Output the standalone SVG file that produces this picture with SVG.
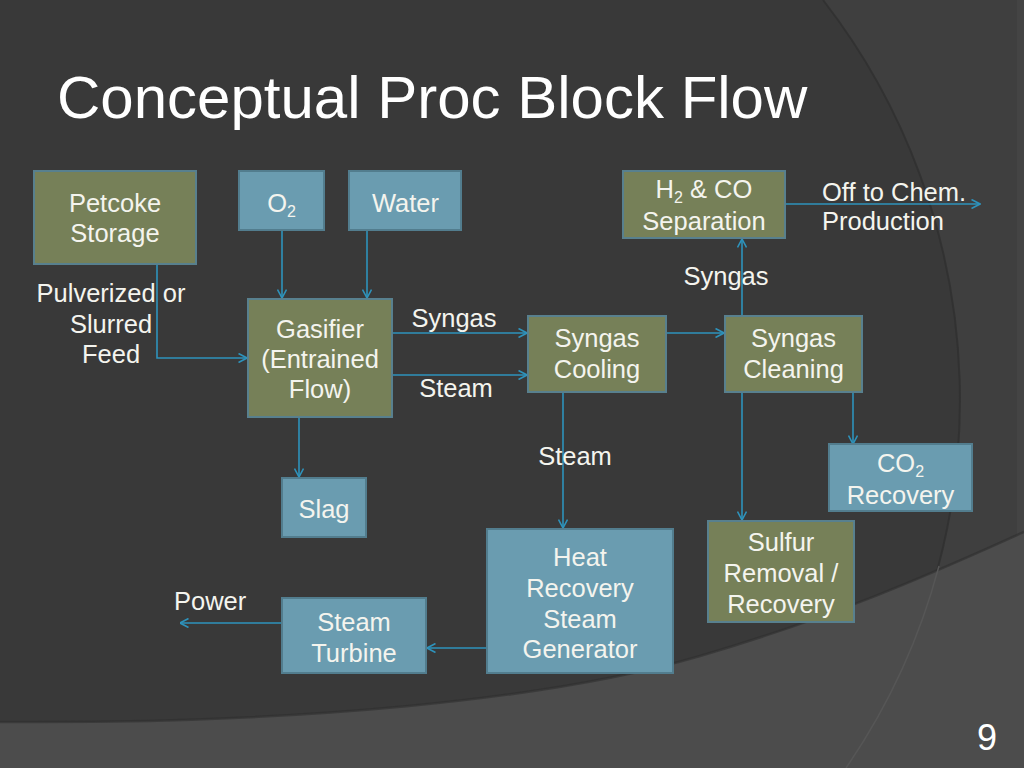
<svg xmlns="http://www.w3.org/2000/svg" width="1024" height="768" viewBox="0 0 1024 768">
<style>
.t{font-family:"Liberation Sans",Arial,sans-serif;font-size:25.5px;fill:#F4F4EE;text-anchor:middle}
.l{font-family:"Liberation Sans",Arial,sans-serif;font-size:25.5px;fill:#F4F4EE}
.g{fill:#768058;stroke:#58808E;stroke-width:2}
.b{fill:#6A9CB0;stroke:#527D8E;stroke-width:2}
.c{fill:none;stroke:#2E93BC;stroke-width:1.6;marker-end:url(#ah)}
</style>
<defs>
<marker id="ah" viewBox="0 0 10 10" refX="9.5" refY="5" markerWidth="10" markerHeight="10" markerUnits="userSpaceOnUse" orient="auto">
<path d="M1,0.5 L9.5,5 L1,9.5" fill="none" stroke="#2E93BC" stroke-width="1.6"/>
</marker>
</defs>
<g id="background">
<rect width="1024" height="768" fill="#393939"/>
<path d="M823,0 A652,652 0 0 1 846,768 L1024,768 L1024,0 Z" fill="#3F3F3F"/>
<path d="M823,0 A652,652 0 0 1 846,768" fill="none" stroke="#303030" stroke-width="2" opacity="0.8"/>
<rect x="1017" y="0" width="7" height="768" fill="#444444"/>
<path d="M0,722 C300,724 550,700 700,656 S950,565 1024,532 L1024,768 L0,768 Z" fill="#4C4C4C"/>
<path d="M0,722 C300,724 550,700 700,656 S950,565 1024,532" fill="none" stroke="#2F2F2F" stroke-width="2.5" opacity="0.6"/>
<path d="M939,566 A652,652 0 0 1 846,768" fill="none" stroke="#565656" stroke-width="1.5"/>
</g>
<text x="57" y="118" font-family="Liberation Sans, Arial, sans-serif" font-size="60" fill="#FFFFFF">Conceptual Proc Block Flow</text>
<g id="connectors">
<path class="c" d="M157,265 V358 H247"/>
<path class="c" d="M282,231 V298"/>
<path class="c" d="M367,231 V298"/>
<path class="c" d="M393,333 H527"/>
<path class="c" d="M393,375 H527"/>
<path class="c" d="M299,418 V477"/>
<path class="c" d="M667,333 H724"/>
<path class="c" d="M742,315 V239"/>
<path class="c" d="M786,204 H980"/>
<path class="c" d="M853,393 V444"/>
<path class="c" d="M742,393 V520"/>
<path class="c" d="M563,393 V528"/>
<path class="c" d="M486,648 H427"/>
<path class="c" d="M281,623 H180"/>
</g>
<g id="labels">
<text class="t" x="111" y="302">Pulverized or</text>
<text class="t" x="111" y="333">Slurred</text>
<text class="t" x="111" y="363">Feed</text>
<text class="t" x="454" y="327">Syngas</text>
<text class="t" x="456" y="397">Steam</text>
<text class="t" x="726" y="285">Syngas</text>
<text class="t" x="575" y="465">Steam</text>
<text class="l" x="822" y="201">Off to Chem.</text>
<text class="l" x="822" y="230">Production</text>
<text class="l" x="174" y="610">Power</text>
</g>
<g id="petcoke">
<rect class="g" x="34" y="171" width="162" height="93"/>
<text class="t" x="115" y="212">Petcoke</text>
<text class="t" x="115" y="242">Storage</text>
</g>
<g id="o2">
<rect class="b" x="239" y="171" width="85" height="59"/>
<text class="t" x="281.5" y="212">O<tspan font-size="16" dy="5">2</tspan></text>
</g>
<g id="water">
<rect class="b" x="349" y="171" width="112" height="59"/>
<text class="t" x="405.5" y="212">Water</text>
</g>
<g id="gasifier">
<rect class="g" x="248" y="299" width="144" height="118"/>
<text class="t" x="320" y="338">Gasifier</text>
<text class="t" x="320" y="368">(Entrained</text>
<text class="t" x="320" y="398">Flow)</text>
</g>
<g id="slag">
<rect class="b" x="282" y="478" width="84" height="59"/>
<text class="t" x="324" y="518">Slag</text>
</g>
<g id="cooling">
<rect class="g" x="528" y="316" width="138" height="76"/>
<text class="t" x="597" y="347">Syngas</text>
<text class="t" x="597" y="378">Cooling</text>
</g>
<g id="cleaning">
<rect class="g" x="725" y="316" width="137" height="76"/>
<text class="t" x="793.5" y="347">Syngas</text>
<text class="t" x="793.5" y="378">Cleaning</text>
</g>
<g id="separation">
<rect class="g" x="623" y="171" width="162" height="67"/>
<text class="t" x="704" y="198">H<tspan font-size="16" dy="5">2</tspan><tspan dy="-5"> &amp; CO</tspan></text>
<text class="t" x="704" y="230">Separation</text>
</g>
<g id="co2">
<rect class="b" x="829" y="444" width="143" height="67"/>
<text class="t" x="900.5" y="472">CO<tspan font-size="16" dy="5">2</tspan></text>
<text class="t" x="900.5" y="504">Recovery</text>
</g>
<g id="sulfur">
<rect class="g" x="708" y="521" width="146" height="101"/>
<text class="t" x="781" y="551">Sulfur</text>
<text class="t" x="781" y="582">Removal /</text>
<text class="t" x="781" y="613">Recovery</text>
</g>
<g id="hrsg">
<rect class="b" x="487" y="529" width="186" height="144"/>
<text class="t" x="580" y="566">Heat</text>
<text class="t" x="580" y="597">Recovery</text>
<text class="t" x="580" y="628">Steam</text>
<text class="t" x="580" y="658">Generator</text>
</g>
<g id="turbine">
<rect class="b" x="282" y="598" width="144" height="75"/>
<text class="t" x="354" y="631">Steam</text>
<text class="t" x="354" y="662">Turbine</text>
</g>
<text x="977" y="750" font-family="Liberation Sans, Arial, sans-serif" font-size="36" fill="#FFFFFF">9</text>
</svg>
